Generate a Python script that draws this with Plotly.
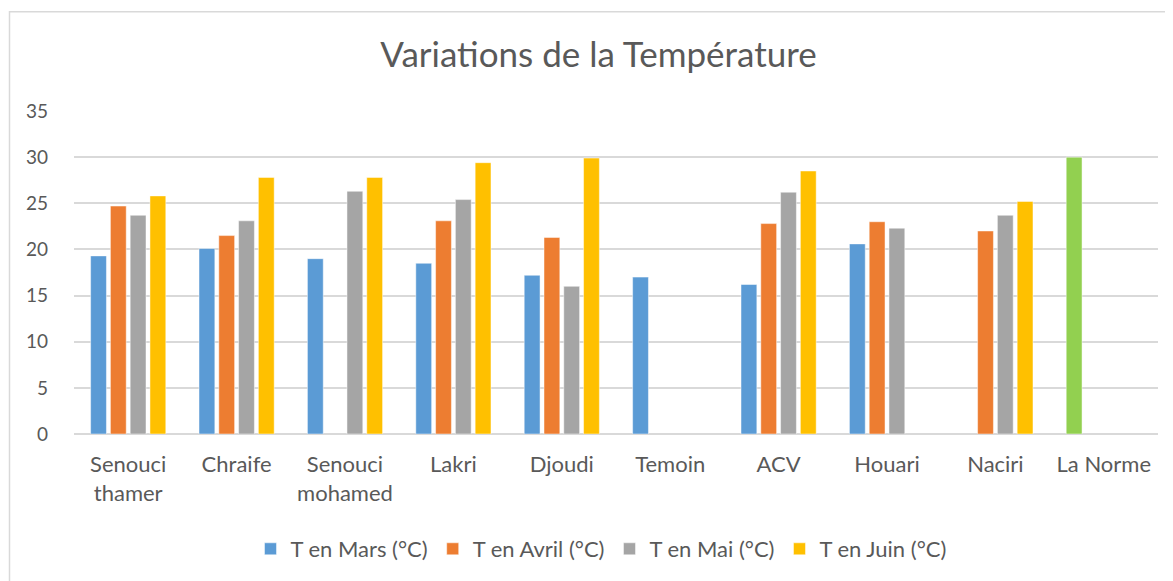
import plotly.graph_objects as go

categories = ["Senouci<br>thamer", "Chraife", "Senouci<br>mohamed", "Lakri", "Djoudi",
              "Temoin", "ACV", "Houari", "Naciri", "La Norme"]
t_mars = [19.3, 20.1, 19.0, 18.5, 17.2, 17.0, 16.2, 20.6, None, 30.0]
t_avril = [24.7, 21.5, None, 23.1, 21.3, None, 22.8, 23.0, 22.0, None]
t_mai = [23.7, 23.1, 26.3, 25.4, 16.0, None, 26.2, 22.3, 23.7, None]
t_juin = [25.8, 27.8, 27.8, 29.4, 29.9, None, 28.5, None, 25.2, None]
y_ticks = [0, 5, 10, 15, 20, 25, 30, 35]

series = [
    ("T en Mars (°C)", t_mars, "#5B9BD5"),
    ("T en Avril (°C)", t_avril, "#ED7D31"),
    ("T en Mai (°C)", t_mai, "#A5A5A5"),
    ("T en Juin (°C)", t_juin, "#FFC000"),
]

FONT = "Lato"
TXT = "#595959"

fig = go.Figure()
for name, vals, col in series:
    colors = [col] * len(categories)
    if name.startswith("T en Mars"):
        colors[-1] = "#92D050"  # La Norme highlighted
    fig.add_trace(go.Bar(
        x=categories, y=vals, name=name,
        marker=dict(color=colors, line=dict(color="rgba(255,255,255,0.6)", width=0.8)),
    ))

# page body has an 8px margin; design in window pixels and convert
OFF = 8
W, H = 1173 - OFF, 581 - OFF
ml, mr, mt, mb = 74 - OFF, 1173 - 1158, 111 - OFF, 581 - 435
pw, ph = W - ml - mr, H - mt - mb

def px_x(x):
    return (x - OFF - ml) / pw

def px_y(y):
    return (H - mb - (y - OFF)) / ph

fig.update_layout(
    width=W, height=H,
    margin=dict(l=ml, r=mr, t=mt, b=mb),
    paper_bgcolor="white", plot_bgcolor="white",
    font=dict(family=FONT, color=TXT, size=22),
    title=dict(text="Variations de la Température", x=(598.5 - OFF) / W, xanchor="center",
               y=1 - (55 - OFF) / H, yanchor="middle",
               font=dict(family=FONT, size=35, color=TXT)),
    barmode="group", bargap=0.27, bargroupgap=0.2,
    showlegend=True,
    legend=dict(orientation="h", x=px_x(601), xanchor="center", y=px_y(549), yanchor="middle",
                font=dict(family=FONT, size=22, color=TXT), itemwidth=30,
                traceorder="normal"),
    xaxis=dict(showgrid=False, showline=False, ticks="", tickfont=dict(size=22, color=TXT),
               ticklabelstandoff=15),
    yaxis=dict(range=[0, 35], tickvals=y_ticks, showgrid=True, gridcolor="#D9D9D9", gridwidth=1.5,
               zeroline=True, zerolinecolor="#D9D9D9", zerolinewidth=1.5, showline=False,
               ticks="", tickfont=dict(size=19, color=TXT), ticklabelstandoff=25),
    shapes=[dict(type="rect", xref="paper", yref="paper",
                 x0=px_x(9.5), x1=px_x(1200), y0=px_y(600), y1=px_y(11.5),
                 line=dict(color="#D9D9D9", width=1.5), fillcolor="rgba(0,0,0,0)", layer="below")],
)

fig.write_html("out.html")
